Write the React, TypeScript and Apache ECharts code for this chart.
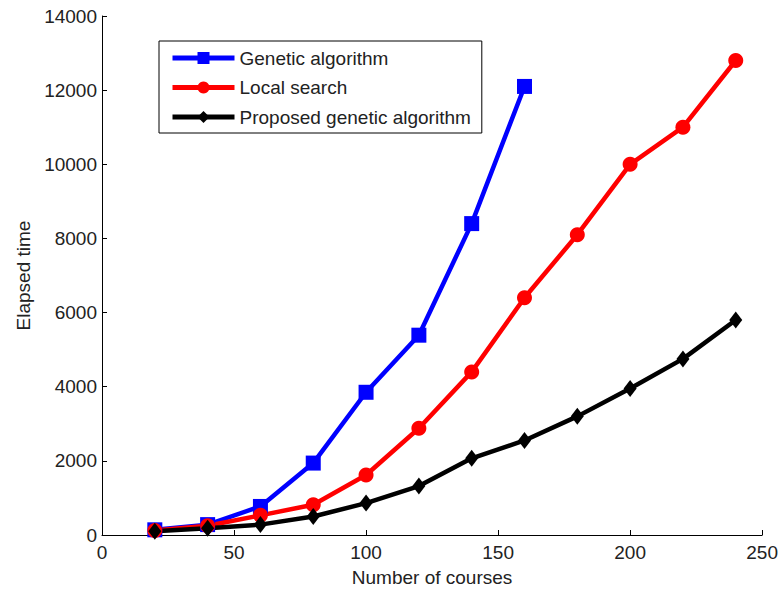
import React, { useEffect, useRef } from "react";
import * as echarts from "echarts";

const courses = [20, 40, 60, 80, 100, 120, 140, 160, 180, 200, 220, 240];
const geneticAlgorithm = [140, 280, 770, 1940, 3850, 5390, 8400, 12100];
const localSearch = [120, 250, 530, 815, 1620, 2880, 4400, 6400, 8100, 10000, 11000, 12800];
const proposedGA = [100, 180, 280, 500, 860, 1320, 2070, 2550, 3200, 3950, 4750, 5800];
const seriesNames = ["Genetic algorithm", "Local search", "Proposed genetic algorithm"];

const FONT = "'Liberation Sans', Arial, sans-serif";

export default function App() {
  const ref = useRef<HTMLDivElement>(null);
  useEffect(() => {
    if (!ref.current) return;
    const chart = echarts.init(ref.current, null, { renderer: "svg" });
    const pair = (vals: number[]) => vals.map((v, i) => [courses[i], v]);
    chart.setOption({
      animation: false,
      backgroundColor: "#fff",
      textStyle: { fontFamily: FONT },
      grid: { left: 102, right: 16, top: 16, bottom: 56, containLabel: false },
      legend: {
        orient: "vertical",
        left: 159,
        top: 41,
        padding: [7, 11, 6, 11],
        itemGap: 9.5,
        itemWidth: 62,
        itemHeight: 15,
        borderColor: "#000",
        borderWidth: 1,
        backgroundColor: "#fff",
        borderRadius: 0,
        lineStyle: { width: 5 },
        textStyle: { fontSize: 19, lineHeight: 20, color: "#222", fontFamily: FONT },
        data: seriesNames,
      },
      xAxis: {
        type: "value",
        min: 0,
        max: 250,
        interval: 50,
        name: "Number of courses",
        nameLocation: "middle",
        nameGap: 33,
        nameTextStyle: { fontSize: 19, color: "#222", fontFamily: FONT },
        axisLine: { lineStyle: { color: "#000", width: 1 } },
        axisTick: { inside: true, length: 5, lineStyle: { color: "#000" } },
        axisLabel: { fontSize: 19, color: "#222", margin: 8, fontFamily: FONT },
        splitLine: { show: false },
      },
      yAxis: {
        type: "value",
        min: 0,
        max: 14000,
        interval: 2000,
        name: "Elapsed time",
        nameLocation: "middle",
        nameGap: 60,
        nameTextStyle: { fontSize: 19, color: "#222", fontFamily: FONT },
        axisLine: { show: true, lineStyle: { color: "#000", width: 1 } },
        axisTick: { show: true, inside: true, length: 5, lineStyle: { color: "#000" } },
        axisLabel: {
          fontSize: 19,
          color: "#222",
          margin: 5,
          fontFamily: FONT,
          formatter: (v: number) => String(v),
        },
        splitLine: { show: false },
      },
      series: [
        {
          name: seriesNames[0],
          type: "line",
          data: pair(geneticAlgorithm),
          symbol: "rect",
          symbolSize: 15,
          lineStyle: { color: "#0000ff", width: 4.5 },
          itemStyle: { color: "#0000ff" },
        },
        {
          name: seriesNames[1],
          type: "line",
          data: pair(localSearch),
          symbol: "circle",
          symbolSize: 15,
          lineStyle: { color: "#ff0000", width: 4.5 },
          itemStyle: { color: "#ff0000" },
        },
        {
          name: seriesNames[2],
          type: "line",
          data: pair(proposedGA),
          symbol: "diamond",
          symbolSize: [13, 17],
          lineStyle: { color: "#000000", width: 4.5 },
          itemStyle: { color: "#000000" },
        },
      ],
    });
    return () => chart.dispose();
  }, []);
  return <div ref={ref} style={{ width: 781, height: 592, position: "absolute", left: 0, top: 0 }} />;
}
